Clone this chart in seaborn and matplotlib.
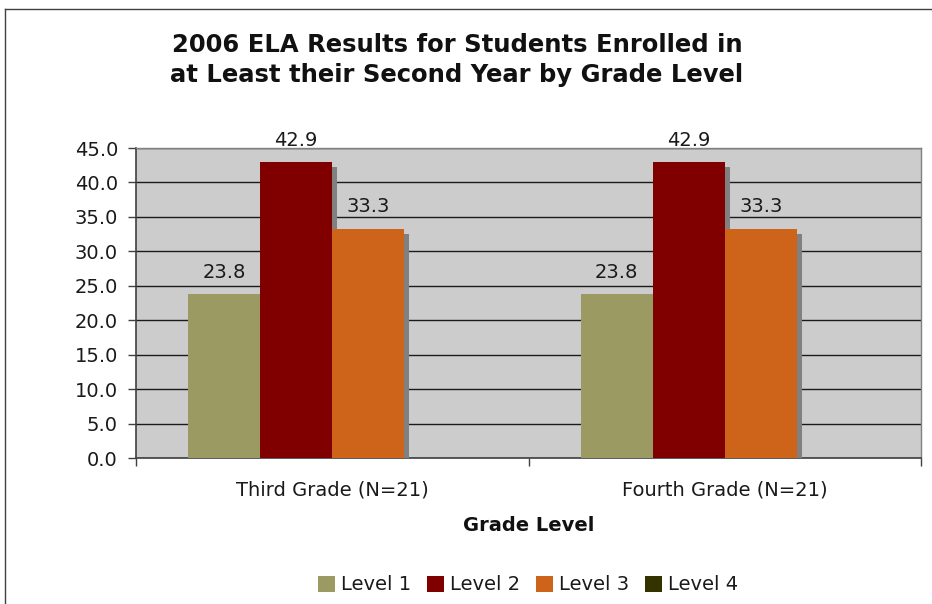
import matplotlib
matplotlib.use("Agg")
import matplotlib.pyplot as plt
import matplotlib.patheffects as pe
from matplotlib.lines import Line2D
from matplotlib.ticker import FixedLocator
import pandas as pd
import seaborn as sns

# Percent of students at each performance level, per grade
grades = ["Third Grade (N=21)", "Fourth Grade (N=21)"]
levels = ["Level 1", "Level 2", "Level 3", "Level 4"]
third_grade = [23.8, 42.9, 33.3, 0.0]
fourth_grade = [23.8, 42.9, 33.3, 0.0]
level_colors = ["#9B9A62", "#800000", "#CD641A", "#333300"]
y_ticks = [0.0, 5.0, 10.0, 15.0, 20.0, 25.0, 30.0, 35.0, 40.0, 45.0]

rows = []
for grade, vals in zip(grades, [third_grade, fourth_grade]):
    for lvl, v in zip(levels, vals):
        rows.append({"Grade Level": grade, "Level": lvl, "Percent": v})
df = pd.DataFrame(rows)

DPI = 100
FS = 14
fig = plt.figure(figsize=(9.32, 6.04), dpi=DPI)
fig.patch.set_facecolor("white")

# Outer chart frame (left and top edges)
fig.add_artist(Line2D([5 / 932, 5 / 932], [0, 1 - 9 / 604], transform=fig.transFigure,
                      color="#404040", lw=1.0))
fig.add_artist(Line2D([5 / 932, 1], [1 - 9 / 604, 1 - 9 / 604], transform=fig.transFigure,
                      color="#404040", lw=1.0))

ax = fig.add_axes([136 / 932, 1 - 458 / 604, (921 - 136) / 932, (458 - 148) / 604])
ax.set_facecolor("#CCCCCC")

sns.barplot(data=df, x="Grade Level", y="Percent", hue="Level", order=grades,
            hue_order=levels, palette=level_colors, saturation=1, width=0.734,
            linewidth=0, errorbar=None, ax=ax, zorder=3)

shadow = [pe.SimplePatchShadow(offset=(3.6, -3.6), shadow_rgbFace="#808080", alpha=1.0),
          pe.Normal()]
for container in ax.containers:
    for bar in container:
        if bar.get_height() > 0:
            bar.set_path_effects(shadow)
    labels = [f"{b.get_height():.1f}" if b.get_height() > 0 else "" for b in container]
    ax.bar_label(container, labels=labels, padding=9, fontsize=FS, color="#1a1a1a")

ax.set_ylim(0, 45)
ax.set_xlim(-0.5, 1.5)
ax.set_yticks(y_ticks)
ax.set_yticklabels([f"{t:.1f}" for t in y_ticks], fontsize=FS, color="#1a1a1a")
ax.grid(axis="y", color="#1a1a1a", lw=1.0, zorder=1)
ax.set_axisbelow(True)

ax.tick_params(axis="y", direction="out", length=6, width=1, color="#404040", pad=7)
ax.tick_params(axis="x", which="major", length=0, pad=16, labelsize=FS, labelcolor="#1a1a1a")
ax.xaxis.set_minor_locator(FixedLocator([-0.5, 0.5, 1.5]))
ax.tick_params(axis="x", which="minor", direction="out", length=6, width=1, color="#404040")

ax.set_xlabel("Grade Level", fontsize=FS, fontweight="bold", labelpad=12, color="#111111")
ax.set_ylabel("")

for side in ["top", "right"]:
    ax.spines[side].set_color("#808080")
    ax.spines[side].set_linewidth(1.0)
for side in ["left", "bottom"]:
    ax.spines[side].set_color("#404040")
    ax.spines[side].set_linewidth(1.2)

handles, labels = ax.get_legend_handles_labels()
ax.get_legend().remove()
for h in handles:
    h.set_path_effects([])
fig.legend(handles, labels, loc="center", bbox_to_anchor=(528 / 932, 1 - 585 / 604),
           ncol=4, frameon=False, fontsize=FS, handlelength=0.85, handleheight=0.85,
           handletextpad=0.3, columnspacing=0.85, labelcolor="#1a1a1a")

fig.text(457 / 932, 1 - 60 / 604,
         "2006 ELA Results for Students Enrolled in\nat Least their Second Year by Grade Level",
         ha="center", va="center", fontsize=17.5, fontweight="bold", linespacing=1.3,
         color="#111111")

fig.savefig("out.png", dpi=DPI, facecolor=fig.get_facecolor())
